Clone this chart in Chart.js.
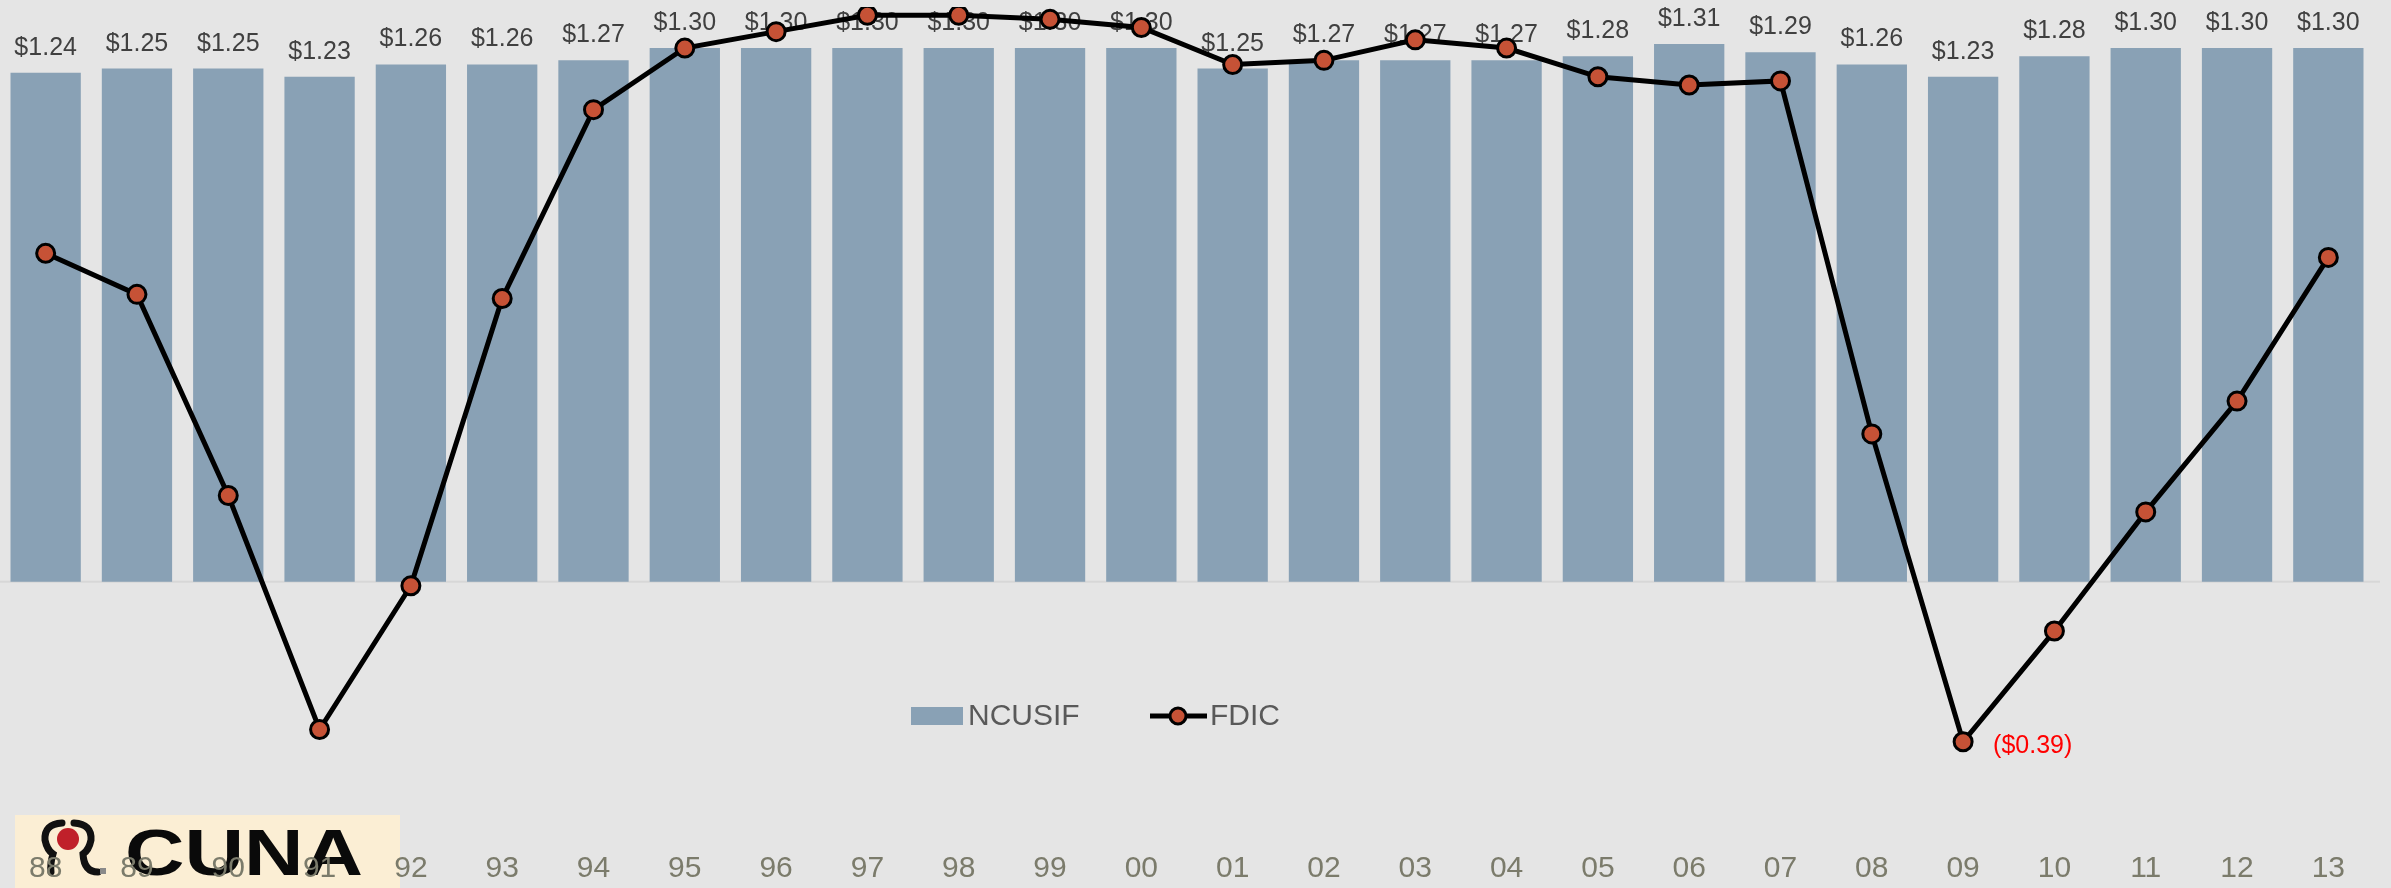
<!DOCTYPE html>
<html>
<head>
<meta charset="utf-8">
<script src="https://cdn.jsdelivr.net/npm/chart.js@4.4.1/dist/chart.umd.min.js"></script>
<style>
  html, body { margin: 0; padding: 0; background: #e5e5e5; }
  #caja { width: 2391px; height: 888px; }
</style>
</head>
<body>
<div id="caja"><canvas id="grafico" width="2391" height="888"></canvas></div>
<script>
// Años (etiquetas del eje X)
var anios = ["88", "89", "90", "91", "92", "93", "94", "95", "96", "97", "98", "99", "00",
             "01", "02", "03", "04", "05", "06", "07", "08", "09", "10", "11", "12", "13"];

// NCUSIF (barras)
var ncusif = [1.24, 1.25, 1.25, 1.23, 1.26, 1.26, 1.27, 1.30, 1.30, 1.30, 1.30, 1.30, 1.30,
              1.25, 1.27, 1.27, 1.27, 1.28, 1.31, 1.29, 1.26, 1.23, 1.28, 1.30, 1.30, 1.30];

// FDIC (línea)
var fdic = [0.80, 0.70, 0.21, -0.36, -0.01, 0.69, 1.15, 1.30, 1.34, 1.38, 1.38, 1.37, 1.35,
            1.26, 1.27, 1.32, 1.30, 1.23, 1.21, 1.22, 0.36, -0.39, -0.12, 0.17, 0.44, 0.79];

var ejeMin = -0.6;
var ejeMax = 1.4;

var colorBarra = "#89a1b5";
var colorPunto = "#c65236";
var fuente = "'Liberation Sans', Arial, sans-serif";

// Fondo + logo CUNA (debajo de las etiquetas del eje)
var fondoYLogo = {
  id: "fondoYLogo",
  beforeDraw: function (chart) {
    var c = chart.ctx;
    c.save();
    c.fillStyle = "#e5e5e5";
    c.fillRect(0, 0, chart.width, chart.height);

    // logo
    c.fillStyle = "#fbeed4";
    c.fillRect(15, 815, 385, 73);

    c.strokeStyle = "#111";
    c.lineWidth = 7;
    c.lineCap = "round";
    c.beginPath();
    c.moveTo(62, 823);
    c.quadraticCurveTo(44, 824, 45, 840);
    c.quadraticCurveTo(47, 850, 53, 854);
    c.quadraticCurveTo(50, 864, 51, 872);
    c.stroke();
    c.beginPath();
    c.moveTo(74, 823);
    c.quadraticCurveTo(92, 824, 91, 840);
    c.quadraticCurveTo(89, 850, 83, 854);
    c.quadraticCurveTo(84, 872, 98, 872);
    c.stroke();
    c.fillStyle = "#c0202a";
    c.beginPath();
    c.arc(68, 839, 11, 0, Math.PI * 2);
    c.fill();
    c.fillStyle = "#8a8a8a";
    c.fillRect(100, 868, 6, 6);

    c.fillStyle = "#0a0a0a";
    c.font = "bold 65px " + fuente;
    c.textBaseline = "alphabetic";
    var w = c.measureText("CUNA").width;
    c.translate(125, 875);
    c.scale(238 / w, 1);
    c.fillText("CUNA", 0, 0);
    c.restore();
  },
  beforeDatasetsDraw: function (chart) {
    // línea del cero
    var y0 = chart.scales.y.getPixelForValue(0);
    var a = chart.chartArea;
    var c = chart.ctx;
    c.save();
    c.strokeStyle = "#d7d7d7";
    c.lineWidth = 2;
    c.beginPath();
    c.moveTo(a.left, y0);
    c.lineTo(a.right + 6, y0);
    c.stroke();
    c.restore();
  }
};

// Etiquetas de valores de las barras (debajo de la línea)
var etiquetasBarras = {
  id: "etiquetasBarras",
  afterDatasetDraw: function (chart, args) {
    if (args.index !== 0) return;
    var c = chart.ctx;
    c.save();
    c.fillStyle = "#404040";
    c.font = "25px " + fuente;
    c.textAlign = "center";
    c.textBaseline = "alphabetic";
    args.meta.data.forEach(function (barra, i) {
      c.fillText("$" + ncusif[i].toFixed(2), barra.x, barra.y - 18);
    });
    c.restore();
  },
  afterDatasetsDraw: function (chart) {
    // valor mínimo de FDIC en rojo
    var meta = chart.getDatasetMeta(1);
    var iMin = fdic.indexOf(Math.min.apply(null, fdic));
    var p = meta.data[iMin];
    var c = chart.ctx;
    c.save();
    c.fillStyle = "#ff0000";
    c.font = "25px " + fuente;
    c.textAlign = "left";
    c.textBaseline = "middle";
    c.fillText("($" + Math.abs(fdic[iMin]).toFixed(2) + ")", p.x + 30, p.y + 4);
    c.restore();
  },
  afterDraw: function (chart) {
    // leyenda
    var c = chart.ctx;
    c.save();
    c.fillStyle = colorBarra;
    c.fillRect(911, 707, 52, 18);
    c.fillStyle = "#595959";
    c.font = "30px " + fuente;
    c.textBaseline = "middle";
    c.fillText("NCUSIF", 968, 717);
    c.strokeStyle = "#000";
    c.lineWidth = 5;
    c.beginPath();
    c.moveTo(1150, 716);
    c.lineTo(1207, 716);
    c.stroke();
    c.beginPath();
    c.arc(1178, 716, 8, 0, Math.PI * 2);
    c.fillStyle = colorPunto;
    c.fill();
    c.lineWidth = 3;
    c.stroke();
    c.fillStyle = "#595959";
    c.fillText("FDIC", 1210, 717);
    c.restore();
  }
};

var grafico = new Chart(document.getElementById("grafico").getContext("2d"), {
  type: "bar",
  data: {
    labels: anios,
    datasets: [
      {
        label: "NCUSIF",
        data: ncusif,
        backgroundColor: colorBarra,
        barPercentage: 0.77,
        categoryPercentage: 1,
        order: 1
      },
      {
        type: "line",
        label: "FDIC",
        data: fdic,
        borderColor: "#000",
        borderWidth: 5,
        pointBackgroundColor: colorPunto,
        pointBorderColor: "#000",
        pointBorderWidth: 3,
        pointRadius: 9,
        tension: 0,
        order: 0
      }
    ]
  },
  options: {
    responsive: false,
    animation: false,
    layout: {
      autoPadding: false,
      padding: { top: 7, right: 17, left: 0, bottom: 0 }
    },
    plugins: {
      legend: { display: false },
      tooltip: { enabled: false }
    },
    scales: {
      x: {
        grid: {
          display: true,
          drawOnChartArea: false,
          drawTicks: true,
          tickLength: 23,
          color: "rgba(0,0,0,0)"
        },
        border: { display: false },
        ticks: {
          color: "#7b7b6b",
          font: { family: fuente, size: 30 },
          padding: 0,
          maxRotation: 0,
          autoSkip: false
        },
        afterFit: function (s) {
          s.height = 60;
          s.paddingLeft = 0;
          s.paddingRight = 0;
        }
      },
      y: {
        display: false,
        min: ejeMin,
        max: ejeMax
      }
    }
  },
  plugins: [fondoYLogo, etiquetasBarras]
});
</script>
</body>
</html>
